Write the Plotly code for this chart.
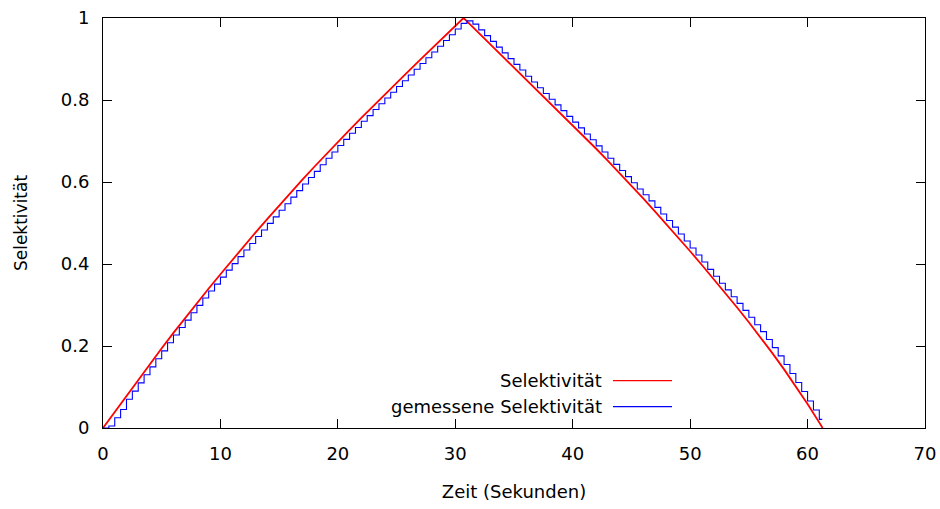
import plotly.graph_objects as go

# Red curve: "Selektivität" (time in s, value)
sel_t = [0, 1, 2, 3, 4, 5, 6, 7, 8, 9, 10, 11, 12, 13, 14, 15, 16, 17, 18, 19,
         20, 21, 22, 23, 24, 25, 26, 27, 28, 29, 30, 30.7,
         31, 32, 33, 34, 35, 36, 37, 38, 39, 40, 41, 42, 43, 44, 45, 46, 47,
         48, 49, 50, 51, 52, 53, 54, 55, 56, 57, 58, 59, 60, 61, 61.28]
sel_v = [0, 0.0395, 0.0788, 0.1178, 0.1564, 0.1945, 0.2320, 0.2688, 0.3049,
         0.3403, 0.3751, 0.4097, 0.4437, 0.4772, 0.5102, 0.5427, 0.5747,
         0.6062, 0.6372, 0.6677, 0.6977, 0.7273, 0.7565, 0.7853, 0.8138,
         0.8420, 0.8700, 0.8978, 0.9255, 0.9531, 0.9806, 1.0,
         0.9916, 0.9636, 0.9356, 0.9076, 0.8796, 0.8516, 0.8236, 0.7955,
         0.7673, 0.7389, 0.7102, 0.6811, 0.6516, 0.6216, 0.5911, 0.5601,
         0.5286, 0.4966, 0.4641, 0.4311, 0.3976, 0.3636, 0.3290, 0.2938,
         0.2578, 0.2208, 0.1826, 0.1430, 0.1018, 0.0586, 0.0131, 0.0]

# Blue step curve: "gemessene Selektivität" sampled every 0.5 s
mess_t = [i * 0.5 for i in range(123)] + [61.25]
mess_v = [0, 0.005, 0.025, 0.045, 0.070, 0.090, 0.110, 0.130, 0.149, 0.169,
          0.188, 0.208, 0.227, 0.245, 0.263, 0.281, 0.299, 0.317, 0.334, 0.351,
          0.368, 0.385, 0.401, 0.418, 0.434, 0.450, 0.467, 0.483, 0.499, 0.515,
          0.531, 0.547, 0.563, 0.579, 0.595, 0.611, 0.626, 0.642, 0.658, 0.673,
          0.689, 0.704, 0.719, 0.733, 0.748, 0.762, 0.777, 0.791, 0.805, 0.819,
          0.833, 0.847, 0.861, 0.875, 0.889, 0.903, 0.917, 0.931, 0.945, 0.959,
          0.973, 0.987, 0.993, 0.985, 0.971, 0.957, 0.943, 0.929, 0.915, 0.901,
          0.887, 0.873, 0.858, 0.844, 0.830, 0.816, 0.802, 0.788, 0.774, 0.760,
          0.746, 0.732, 0.717, 0.703, 0.688, 0.673, 0.658, 0.643, 0.628, 0.613,
          0.598, 0.583, 0.569, 0.554, 0.538, 0.522, 0.506, 0.490, 0.473, 0.456,
          0.439, 0.422, 0.405, 0.387, 0.370, 0.353, 0.337, 0.320, 0.304, 0.287,
          0.270, 0.252, 0.235, 0.216, 0.196, 0.176, 0.155, 0.133, 0.111, 0.089,
          0.066, 0.044, 0.021, 0.021]

names = ["Selektivität", "gemessene Selektivität"]
colors = ["#ff0000", "#0000ff"]

FONT = "DejaVu Sans"
FS = 18

fig = go.Figure()
fig.add_trace(go.Scatter(x=sel_t, y=sel_v, mode="lines", name=names[0],
                         line=dict(color=colors[0], width=1.8),
                         showlegend=False, cliponaxis=False))
fig.add_trace(go.Scatter(x=mess_t, y=mess_v, mode="lines", name=names[1],
                         line=dict(color=colors[1], width=1.1, shape="hv"),
                         showlegend=False, cliponaxis=False))

axis_common = dict(
    showline=True, linecolor="black", linewidth=1, mirror="allticks",
    ticks="inside", ticklen=9, tickwidth=1, tickcolor="black",
    showgrid=False, zeroline=False, automargin=False,
    tickfont=dict(family=FONT, size=FS, color="black"),
    ticklabelstandoff=9,
)

fig.update_layout(
    width=940, height=509,
    margin=dict(l=103, r=15, t=18, b=81),
    paper_bgcolor="white", plot_bgcolor="white",
    font=dict(family=FONT, size=FS, color="black"),
    xaxis=dict(range=[0, 70], dtick=10, tick0=0,
               title=dict(text="Zeit (Sekunden)", standoff=22,
                          font=dict(family=FONT, size=FS)),
               **axis_common),
    yaxis=dict(range=[0, 1], dtick=0.2, tick0=0,
               title=dict(text="Selektivität", standoff=28,
                          font=dict(family=FONT, size=17)),
               **axis_common),
)

# gnuplot-style key: text on the left, line sample on the right
key_y = [0.1154, 0.052]
for name, col, ky in zip(names, colors, key_y):
    fig.add_annotation(x=0.6095, y=ky, xref="paper", yref="paper",
                       text=name, showarrow=False, xanchor="right",
                       yanchor="middle",
                       font=dict(family=FONT, size=FS, color="black"))
    fig.add_shape(type="line", xref="paper", yref="paper",
                  x0=0.6204, x1=0.6922, y0=ky, y1=ky,
                  line=dict(color=col, width=1.2))

fig.write_html("out.html")
